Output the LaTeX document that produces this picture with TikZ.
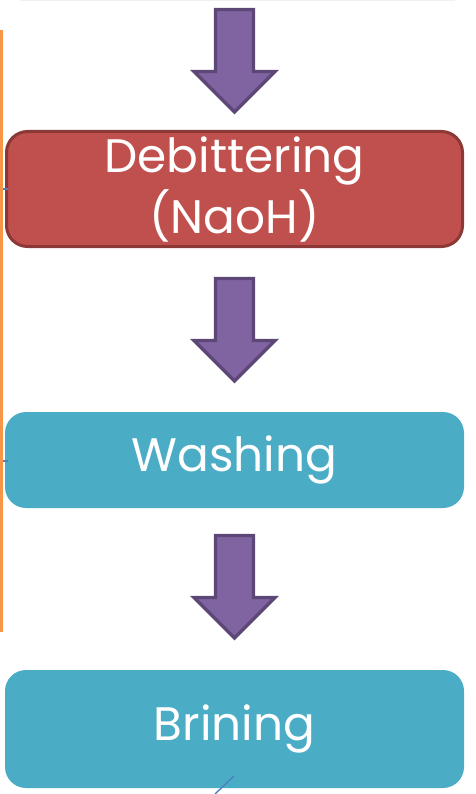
\documentclass[tikz,border=0pt]{standalone}
\usepackage{fontspec}
\setmainfont{Poppins}
\definecolor{redfill}{HTML}{C0504D}
\definecolor{redline}{HTML}{8C3836}
\definecolor{tealfill}{HTML}{4BACC6}
\definecolor{purfill}{HTML}{8064A2}
\definecolor{purline}{HTML}{5C4776}
\definecolor{orangeline}{HTML}{F79646}
\definecolor{blueline}{HTML}{4F81BD}
\tikzset{
  stepbox/.style={rectangle, rounded corners=21pt, minimum width=459pt, inner sep=0pt,
    text=white, font=\fontsize{47}{64}\selectfont, align=center},
  redbox/.style={stepbox, fill=redfill, draw=redline, line width=3pt, minimum width=456pt, minimum height=115pt},
  tealbox/.style={stepbox, fill=tealfill},
  arrowstyle/.style={fill=purfill, draw=purline, line width=3.2pt, line join=miter},
  blockarrow/.pic={\draw[arrowstyle] (-19,0) -- (19,0) -- (19,62) -- (40.5,62) -- (0,102.5) -- (-40.5,62) -- (-19,62) -- cycle;},
  tick/.style={draw=blueline, line width=1.4pt}
}
\begin{document}
\begin{tikzpicture}[x=1pt,y=-1pt]
\useasboundingbox (0,0) rectangle (475,794);
\draw[black!6, line width=1pt] (20,0.5) -- (455,0.5);
\draw[orangeline, line width=3pt] (1.8,30) coordinate (otop) -- (1.8,632) coordinate (obot);
\node[redbox] (deb) at (234.5,189) {\raisebox{-3pt}{Debittering}\\(NaoH)};
\node[tealbox, minimum height=96pt] (wash) at (234.5,460) {Washing};
\node[tealbox, minimum height=118pt] (brin) at (234.5,729) {Brining};
\pic at (234.5,9.5) {blockarrow};
\pic at (234.5,278.5) {blockarrow};
\pic at (234.5,535.5) {blockarrow};
\coordinate (t1) at (3,189);
\coordinate (t2) at (3,461);
\draw[tick] (t1) -- (8,189);
\draw[tick] (t2) -- (8,461);
\coordinate (b1) at (234,776);
\coordinate (b2) at (215,794);
\draw[tick] (b1) -- (b2);
\end{tikzpicture}
\end{document}
